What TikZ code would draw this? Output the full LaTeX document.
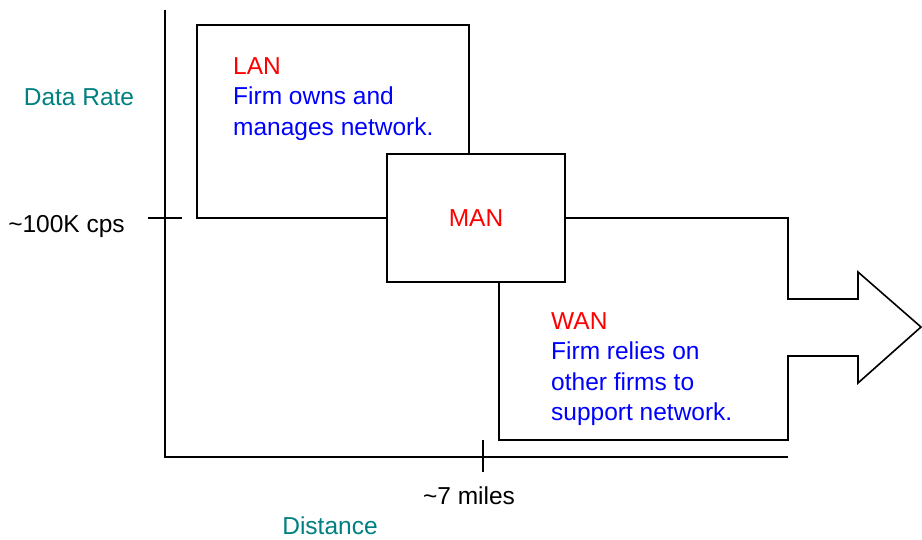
\documentclass[tikz,border=0pt]{standalone}
\usepackage{fontspec}
\setmainfont{Liberation Sans}
\definecolor{axistext}{RGB}{0,128,128}
\begin{document}
\begin{tikzpicture}[x=1pt,y=-1pt,
    outline/.style = {draw, line width=1.6pt, line join=miter},
    axis/.style = {draw, line width=1.4pt},
    txt/.style = {font=\fontsize{24.5}{30.5}\selectfont, inner sep=0pt}]
  \useasboundingbox (0,0) rectangle (922,539);
  % axes
  \coordinate (ytop) at (165,10);
  \coordinate (origin) at (165,457);
  \coordinate (xend) at (788,457);
  \draw[axis] (ytop) -- (origin) -- (xend);
  \draw[axis] (148,218) -- (182,218);
  \draw[axis] (483,440) -- (483,472);
  %
  \node[outline, txt, text=red, minimum width=178pt, minimum height=128pt] (man) at (476,218) {MAN};
  \draw[outline] (469,154) -- (469,25) -- (197,25) -- (197,218) -- (man.west);
  \draw[outline] (man.east) -- (788,218) -- (788,299) -- (858,299) -- (858,272)
    -- (921,327) -- (858,383) -- (858,356) -- (788,356) -- (788,440)
    -- (499,440) -- (499,282);
  %
  \node[txt, text=blue, align=left, anchor=north west] (lan) at (233,57)
    {\textcolor{red}{LAN}\\Firm owns and\\manages network.};
  \node[txt, text=blue, align=left, anchor=north west] (wan) at (551,312)
    {\textcolor{red}{WAN}\\Firm relies on\\other firms to\\support network.};
  \node[txt, text=axistext] (rate) at (79,97) {Data Rate};
  \node[txt] (cps) at (66.5,226) {\textasciitilde100K cps};
  \node[txt] (miles) at (469,496) {\textasciitilde7 miles};
  \node[txt, text=axistext] (dist) at (330,525.5) {Distance};
\end{tikzpicture}
\end{document}
